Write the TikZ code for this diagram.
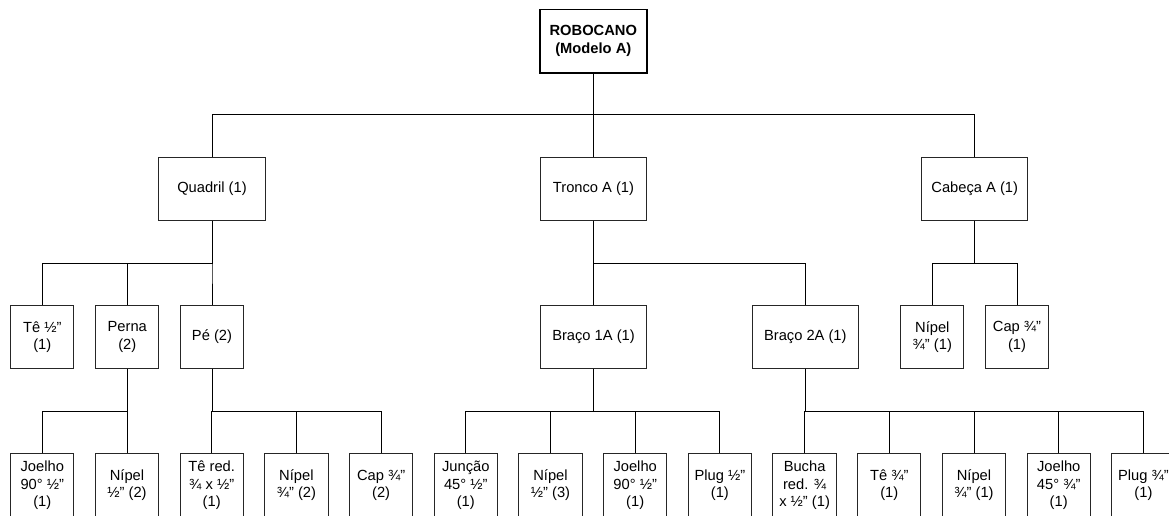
\documentclass[tikz,border=0pt]{standalone}
\usepackage{fontspec}
\setmainfont{Liberation Sans}
\begin{document}
\begin{tikzpicture}[x=1pt,y=-1pt,
  part/.style={draw=black!85, line width=1pt, inner sep=0pt, align=center,
    minimum height=62.7pt, font=\fontsize{14.7}{17.6}\selectfont},
  wide/.style={part, minimum width=106.3pt},
  narrow/.style={part, minimum width=63.3pt},
  link/.style={draw=black, line width=1pt}]
\useasboundingbox (0,0) rectangle (1169,516);
\clip (0,0) rectangle (1169,516);

% bus levels
\coordinate (b1) at (0,115);
\coordinate (b2) at (0,263.3);
\coordinate (b3) at (0,411);

% root
\node[part, draw=black, line width=1.8pt, minimum width=106.7pt, minimum height=63.2pt,
  font=\fontsize{14.7}{18.5}\selectfont\bfseries] (root) at (593.3,41.1) {ROBOCANO\\(Modelo A)};

% level 1
\node[wide] (quad) at (212,189) {Quadril (1)};
\node[wide] (tronco) at (593.5,189) {Tronco A (1)};
\node[wide] (cabeca) at (974.7,189) {Cabeça A (1)};

% level 2
\node[narrow] (te) at (42.3,337) {Tê ½"\\(1)};
\node[narrow] (perna) at (127.3,337) {Perna\\(2)};
\node[narrow] (pe) at (212,337) {Pé (2)};
\node[wide] (braco1) at (593.5,337) {Braço 1A (1)};
\node[wide] (braco2) at (805.3,337) {Braço 2A (1)};
\node[narrow] (nipelc) at (932.3,337) {Nípel\\¾" (1)};
\node[narrow] (capc) at (1017,337) {Cap ¾"\\(1)};

% level 3 (boxes run past the lower edge)
\foreach \name/\txt [count=\k from 0] in {
  j1/{Joelho\\90° ½"\\(1)}, n1/{Nípel\\½" (2)}, tr/{Tê red.\\¾ x ½"\\(1)},
  n2/{Nípel\\¾" (2)}, cp/{Cap ¾"\\(2)}, ju/{Junção\\45° ½"\\(1)},
  n3/{Nípel\\½" (3)}, j2/{Joelho\\90° ½"\\(1)}, pl1/{Plug ½"\\(1)},
  bu/{Bucha\\red. ¾\\x ½" (1)}, t3/{Tê ¾"\\(1)}, n4/{Nípel\\¾" (1)},
  j3/{Joelho\\45° ¾"\\(1)}, pl2/{Plug ¾"\\(1)}}
  \node[narrow, minimum height=63.7pt] (\name) at ({42.3+84.7*\k},485.3) {\txt};

% connectors
\foreach \c in {quad,tronco,cabeca}
  \draw[link] (root.south) -- (root.south |- b1) -| (\c.north);
\foreach \c in {te,perna,pe}
  \draw[link] (quad.south) -- (quad.south |- b2) -| (\c.north);
\foreach \c in {braco1,braco2}
  \draw[link] (tronco.south) -- (tronco.south |- b2) -| (\c.north);
\foreach \c in {nipelc,capc}
  \draw[link] (cabeca.south) -- (cabeca.south |- b2) -| (\c.north);
\foreach \c in {j1,n1}
  \draw[link] (perna.south) -- (perna.south |- b3) -| (\c.north);
\foreach \c in {tr,n2,cp}
  \draw[link] (pe.south) -- (pe.south |- b3) -| (\c.north);
\foreach \c in {ju,n3,j2,pl1}
  \draw[link] (braco1.south) -- (braco1.south |- b3) -| (\c.north);
\foreach \c in {bu,t3,n4,j3,pl2}
  \draw[link] (braco2.south) -- (braco2.south |- b3) -| (\c.north);
\end{tikzpicture}
\end{document}
